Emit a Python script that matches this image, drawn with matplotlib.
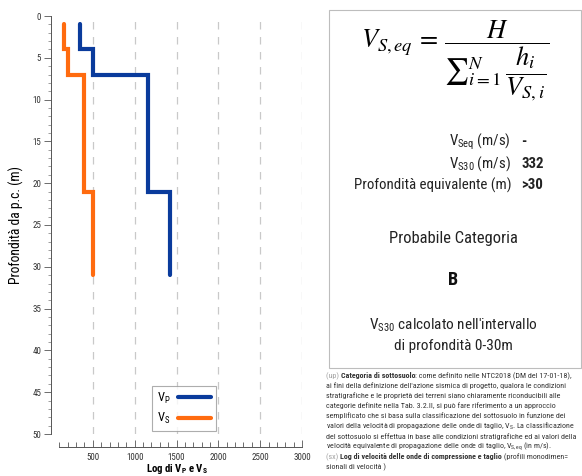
import matplotlib
matplotlib.use("Agg")
import matplotlib.pyplot as plt
from matplotlib import font_manager as fm
from matplotlib.patches import Rectangle

# Step profiles: depth (m) vs velocity (m/s)
depth_vp = [1, 4, 4, 7, 7, 21, 21, 31]
vp = [350, 350, 500, 500, 1160, 1160, 1420, 1420]
depth_vs = [1, 4, 4, 7, 7, 21, 21, 31]
vs = [150, 150, 200, 200, 400, 400, 500, 500]

x_ticks = [500, 1000, 1500, 2000, 2500, 3000]
y_ticks = [0, 5, 10, 15, 20, 25, 30, 35, 40, 45, 50]

vseq_value = "-"
vs30_value = "332"
depth_eq_value = ">30"
category = "B"


def has_family(name):
    try:
        fm.findfont(fm.FontProperties(family=name), fallback_to_default=False)
        return True
    except ValueError:
        return False


narrow_candidates = ['Liberation Sans Narrow', 'Arial Narrow', 'Roboto Condensed',
                     'Archivo Narrow', 'PT Sans Narrow', 'Fira Sans Condensed',
                     'IBM Plex Sans Condensed', 'Barlow Semi Condensed', 'Liberation Sans']
base_font = next((f for f in narrow_candidates if has_family(f)), 'DejaVu Sans')

plt.rcParams['font.family'] = [base_font, 'DejaVu Sans']
plt.rcParams['mathtext.fontset'] = 'custom'
plt.rcParams['mathtext.rm'] = base_font
plt.rcParams['mathtext.it'] = base_font + ':italic'
plt.rcParams['mathtext.bf'] = base_font + ':bold'
plt.rcParams['mathtext.sf'] = base_font

W, H = 582, 476
fig = plt.figure(figsize=(W / 100, H / 100), dpi=100)
renderer = fig.canvas.get_renderer()


def fit(t, target_px, vertical=False):
    bb = t.get_window_extent(renderer)
    size = bb.height if vertical else bb.width
    t.set_fontsize(t.get_fontsize() * target_px / size)
    return t.get_fontsize()


# ---- velocity log ----
ax = fig.add_axes([51 / W, 1 - 434 / H, 251 / W, 418 / H])
blue = "#0a3b9c"
orange = "#ff6b0f"
ax.plot(vp, depth_vp, color=blue, lw=3.0, solid_capstyle='round', solid_joinstyle='miter',
        label=r'V$_\mathregular{P}$', zorder=3)
ax.plot(vs, depth_vs, color=orange, lw=3.0, solid_capstyle='round', solid_joinstyle='miter',
        label=r'V$_\mathregular{S}$', zorder=3)

ax.set_xlim(0, 3000)
ax.set_ylim(50, 0)
for xv in x_ticks:
    ax.axvline(xv, color="#c9c9c9", lw=0.9, dashes=(6, 6), zorder=1)

for s in ('top', 'right'):
    ax.spines[s].set_visible(False)
ax.spines['left'].set_color("#555555")
ax.spines['left'].set_linewidth(0.7)
ax.spines['bottom'].set_position(('outward', 9))
ax.spines['bottom'].set_bounds(100, 3000)
ax.spines['bottom'].set_color("#555555")
ax.spines['bottom'].set_linewidth(0.7)

ax.set_xticks(x_ticks)
ax.set_xticks(range(100, 3001, 100), minor=True)
ax.set_yticks(y_ticks)
ax.set_yticks(range(0, 51), minor=True)
ax.tick_params(axis='x', which='major', direction='in', length=5, width=0.6, color="#555555",
               labelsize=6.5, labelcolor="#333333", pad=5)
ax.tick_params(axis='x', which='minor', direction='in', length=3.5, width=0.6, color="#555555")
ax.tick_params(axis='y', which='major', direction='out', length=5, width=0.6, color="#555555",
               labelsize=6.5, labelcolor="#333333", pad=2)
ax.tick_params(axis='y', which='minor', direction='out', length=2.5, width=0.5, color="#777777")

xl = ax.set_xlabel(r'Log di V$_\mathbf{P}$ e V$_\mathbf{S}$', fontsize=9, fontweight='bold', labelpad=0)
fit(xl, 62)
yl = ax.set_ylabel('Profondità da p.c. (m)', fontsize=10, labelpad=6)
fit(yl, 118, vertical=True)

leg = ax.legend(loc='lower left', bbox_to_anchor=(0.402, 0.007), borderaxespad=0,
                markerfirst=False, fontsize=9, handlelength=2.6, handletextpad=0.6,
                labelspacing=0.4, borderpad=0.4, frameon=True, fancybox=False)
leg.get_frame().set_edgecolor("#999999")
leg.get_frame().set_linewidth(0.8)
for ln in leg.get_lines():
    ln.set_linewidth(3.0)

# ---- summary box ----
fig.patches.append(Rectangle((329 / W, 1 - 368 / H), 252 / W, 358 / H, transform=fig.transFigure,
                             fill=False, edgecolor="#bdbdbd", lw=0.8))

fig.text(455 / W, 1 - 61 / H,
         r'$\mathit{V_{S,eq}}\,=\,\dfrac{\mathit{H}}{{\sum}_{\mathit{i}=1}^{\mathit{N}}\,\dfrac{\mathit{h_i}}{\mathit{V_{S,i}}}}$',
         fontsize=19, ha='center', va='center', math_fontfamily='stix')

ink = "#222222"
t_eq = fig.text(511 / W, 1 - 185 / H, 'Profondità equivalente (m)', fontsize=12,
                ha='right', va='center', color=ink)
row_size = fit(t_eq, 157)
fig.text(511 / W, 1 - 142 / H, r'V$_\mathregular{Seq}$ (m/s)', fontsize=row_size, ha='right', va='center', color=ink)
fig.text(521 / W, 1 - 142 / H, vseq_value, fontsize=row_size, ha='left', va='center', fontweight='bold', color=ink)
fig.text(511 / W, 1 - 164 / H, r'V$_\mathregular{S30}$ (m/s)', fontsize=row_size, ha='right', va='center', color=ink)
fig.text(521 / W, 1 - 164 / H, vs30_value, fontsize=row_size, ha='left', va='center', fontweight='bold', color=ink)
fig.text(521 / W, 1 - 185 / H, depth_eq_value, fontsize=row_size, ha='left', va='center', fontweight='bold', color=ink)

t_cat = fig.text(453 / W, 1 - 238 / H, 'Probabile Categoria', fontsize=15, ha='center', va='center', color=ink)
cat_size = fit(t_cat, 129)
fig.text(453 / W, 1 - 280 / H, category, fontsize=cat_size * 1.1, ha='center', va='center',
         fontweight='bold', color="#111111")
t_a = fig.text(453 / W, 1 - 325 / H, "V$_\\mathregular{S30}$ calcolato nell'intervallo", fontsize=12,
               ha='center', va='center', color=ink)
note_size = fit(t_a, 168)
fig.text(453 / W, 1 - 346 / H, 'di profondità 0-30m', fontsize=note_size, ha='center', va='center', color=ink)

# ---- caption below the box ----
gray = "#a0a0a0"
dark = "#333333"
lines = [
    [("(up) ", gray, 'normal'), ("Categoria di sottosuolo", dark, 'bold'),
     (": come definito nelle NTC2018 (DM del 17-01-18),", dark, 'normal')],
    [("ai fini della definizione dell'azione sismica di progetto, qualora le condizioni", dark, 'normal')],
    [("stratigrafiche e le proprietà dei terreni siano chiaramente riconducibili alle", dark, 'normal')],
    [("categorie definite nella Tab. 3.2.II, si può fare riferimento a un approccio", dark, 'normal')],
    [("semplificato che si basa sulla classificazione del sottosuolo in funzione dei", dark, 'normal')],
    [(r"valori della velocità di propagazione delle onde di taglio, V$_\mathregular{S}$. La classificazione", dark, 'normal')],
    [("del sottosuolo si effettua in base alle condizioni stratigrafiche ed ai valori della", dark, 'normal')],
    [(r"velocità equivalente di propagazione delle onde di taglio, V$_\mathregular{S,eq}$ (in m/s).", dark, 'normal')],
    [("(sx) ", gray, 'normal'), ("Log di velocità delle onde di compressione e taglio", dark, 'bold'),
     (" (profili monodimen=", dark, 'normal')],
    [("sionali di velocità )", dark, 'normal')],
]

# size the caption so its widest line fits between the box edges
probe = fig.text(0, 0, lines[5][0][0], fontsize=6)
cap_size = min(fit(probe, 252), 6.0)
probe.remove()

y0 = 378
for i, parts in enumerate(lines):
    y = 1 - (y0 + i * 10.1) / H
    x = 326 / W
    for txt, col, wt in parts:
        t = fig.text(x, y, txt, fontsize=cap_size, color=col, fontweight=wt, ha='left', va='baseline')
        x = t.get_window_extent(renderer).x1 / fig.bbox.width

fig.savefig("out.png", dpi=100)
